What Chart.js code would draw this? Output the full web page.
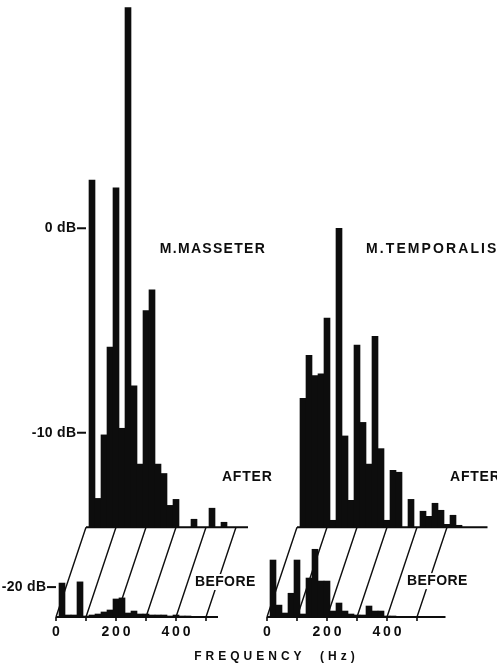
<!DOCTYPE html>
<html>
<head>
<meta charset="utf-8">
<script src="https://cdn.jsdelivr.net/npm/chart.js@4"></script>
<style>
  html, body { margin: 0; padding: 0; background: #fff; }
  #wrap { position: relative; width: 497px; height: 664px; overflow: hidden; background: #fff; }
  #wrap canvas { position: absolute; left: 0; top: 0; }
  #xtitle {
    position: absolute; left: 0; width: 553px; top: 649px;
    text-align: center; color: #0d0d0d;
    font: bold 12px "Liberation Sans", Arial, sans-serif;
    letter-spacing: 4px; white-space: pre;
  }
</style>
</head>
<body>
<div id="wrap">
  <canvas id="masseter" width="497" height="664"></canvas>
  <canvas id="temporalis" width="497" height="664"></canvas>
  <div id="xtitle">FREQUENCY  (Hz)</div>
</div>
<script>
// Spectrum bin centres (Hz), 20 Hz bins
const freqHz = [20, 40, 60, 80, 100, 120, 140, 160, 180, 200, 220, 240, 260, 280,
                300, 320, 340, 360, 380, 400, 420, 440, 460, 480, 500, 520, 540, 560];

// Relative level per bin in dB (0 dB reference); null = no component
const masseterAfterDb = [1.3, -20.3, -10.2, -4.4, 1.1, -9.6, 4.8, -6.5, -13.5, -2.8, -2.0, -13.5, -14.9, -22.7,
                         -20.6, null, null, -31.4, null, null, -23.9, null, -35.5, null, null, null, null, null];
const masseterBeforeDb = [-18.9, -43.5, -43.5, -18.6, -49.5, -43.5, -40, -35.5, -32.6, -24.4, -23.9, -37.5, -34, -40,
                          -40, -43.5, -43.5, -43.5, -49.5, -43.5, -49.5, -49.5, null, null, null, null, null, null];
const temporalisAfterDb = [-7.3, -4.8, -5.9, -5.8, -3.1, -32.6, 0.0, -10.3, -20.9, -4.3, -9.1, -13.5, -3.9, -11.6,
                           -32.6, -14.4, -14.7, null, -20.6, null, -25.4, -28.7, -21.9, -24.9, -40, -27.9, -43.5, null];
const temporalisBeforeDb = [-14.4, -28, -37.5, -22, -14.4, -40, -17.7, -12.9, -18.4, -18.4, -34, -26.6, -34, -40,
                            -43.5, -43.5, -28.7, -34, -34, -49.5, -49.5, null, null, null, null, null, null, null];

// Axis annotations
const afterDbTicks = [0, -10];
const beforeDbTicks = [-20];
const freqTicks = [0, 200, 400];
const depthLinesHz = [0, 100, 200, 300, 400, 500];

// Pseudo-3D depth offset between the AFTER and BEFORE planes
const HZ_SHIFT = 100;     // BEFORE plane sits one 100 Hz step to the left
const AMP_SHIFT = 0.3;    // and 0.3 (linear amplitude) lower
const AMP_TOP = 1.76;
const PX_PER_HZ = 0.3;

const INK = '#0d0d0d';
const FONT = 'bold 14px "Liberation Sans", Arial, sans-serif';

const dbToAmp = v => (v === null ? null : Math.pow(10, v / 20));
const toPoints = arr => freqHz.map((f, i) => ({ x: f, y: dbToAmp(arr[i]) }));

function drawText(ctx, text, x, y, align, spacing) {
  ctx.font = FONT;
  ctx.letterSpacing = spacing + 'px';
  ctx.textAlign = align;
  ctx.textBaseline = 'middle';
  const dx = align === 'center' ? spacing / 2 : (align === 'right' ? spacing : 0);
  ctx.fillText(text, x + dx, y);
}

const depthFrame = {
  id: 'depthFrame',
  beforeDatasetsDraw(chart, args, opts) {
    const { ctx } = chart;
    const { xAfter, xBefore, yAfter, yBefore } = chart.scales;
    const yA0 = yAfter.getPixelForValue(0);
    const yB0 = yBefore.getPixelForValue(0);
    ctx.save();
    ctx.strokeStyle = INK;
    // depth lines joining equal frequencies on both planes
    ctx.lineWidth = 1.4;
    depthLinesHz.forEach(f => {
      ctx.beginPath();
      ctx.moveTo(xBefore.getPixelForValue(f), yB0);
      ctx.lineTo(xAfter.getPixelForValue(f), yA0);
      ctx.stroke();
    });
    // baselines
    ctx.lineWidth = 2;
    ctx.beginPath();
    ctx.moveTo(xAfter.getPixelForValue(0), yA0);
    ctx.lineTo(xAfter.getPixelForValue(opts.afterEndHz), yA0);
    ctx.moveTo(xBefore.getPixelForValue(0), yB0);
    ctx.lineTo(xBefore.getPixelForValue(opts.beforeEndHz), yB0);
    ctx.stroke();
    // tick marks under the front baseline
    ctx.lineWidth = 1.6;
    ctx.beginPath();
    depthLinesHz.forEach(f => {
      const x = xBefore.getPixelForValue(f);
      ctx.moveTo(x, yB0);
      ctx.lineTo(x, yB0 + 4);
    });
    ctx.stroke();
    ctx.restore();
  },
  afterDatasetsDraw(chart, args, opts) {
    const { ctx } = chart;
    const { xAfter, xBefore, yAfter, yBefore } = chart.scales;
    const yB0 = yBefore.getPixelForValue(0);
    ctx.save();
    ctx.fillStyle = INK;
    ctx.strokeStyle = INK;

    // frequency tick labels under the front plane
    freqTicks.forEach(f => drawText(ctx, String(f), xBefore.getPixelForValue(f), yB0 + 15, 'center', 2.8));

    // dB scale
    if (opts.showDb) {
      ctx.lineWidth = 2;
      const tick = (x, y, d) => {
        ctx.beginPath();
        ctx.moveTo(x - 9, y);
        ctx.lineTo(x, y);
        ctx.stroke();
        drawText(ctx, d + ' dB', x - 10, y, 'right', 0.3);
      };
      afterDbTicks.forEach(d => tick(xAfter.getPixelForValue(0), yAfter.getPixelForValue(dbToAmp(d)), d));
      beforeDbTicks.forEach(d => tick(xBefore.getPixelForValue(0), yBefore.getPixelForValue(dbToAmp(d)), d));
    }

    // muscle name and plane captions
    drawText(ctx, opts.title, xAfter.getPixelForValue(opts.titleAt[0]), yAfter.getPixelForValue(opts.titleAt[1]), 'left', opts.titleSpacing);
    drawText(ctx, 'AFTER', xAfter.getPixelForValue(opts.afterAt[0]), yAfter.getPixelForValue(opts.afterAt[1]), 'left', 0.8);

    const bx = xBefore.getPixelForValue(opts.beforeAt[0]);
    const by = yBefore.getPixelForValue(opts.beforeAt[1]);
    ctx.font = FONT;
    ctx.letterSpacing = '0.4px';
    const w = ctx.measureText('BEFORE').width;
    ctx.fillStyle = '#fff';
    ctx.fillRect(bx - 3, by - 8, w + 5, 16);
    ctx.fillStyle = INK;
    drawText(ctx, 'BEFORE', bx, by, 'left', 0.4);
    ctx.restore();
  }
};

function makePanel(id, cfg) {
  const xMax = cfg.xMaxHz;
  const width = (xMax + HZ_SHIFT) * PX_PER_HZ;
  const barStyle = {
    backgroundColor: INK,
    borderWidth: 0,
    grouped: false,
    barPercentage: 1,
    categoryPercentage: 1
  };
  return new Chart(document.getElementById(id), {
    type: 'bar',
    data: {
      datasets: [
        Object.assign({ label: 'After', data: toPoints(cfg.after), xAxisID: 'xAfter', yAxisID: 'yAfter' }, barStyle),
        Object.assign({ label: 'Before', data: toPoints(cfg.before), xAxisID: 'xBefore', yAxisID: 'yBefore' }, barStyle)
      ]
    },
    options: {
      responsive: false,
      animation: false,
      events: [],
      layout: {
        padding: { left: cfg.left, right: 497 - cfg.left - width, top: 1, bottom: 47 }
      },
      scales: {
        xAfter:  { type: 'linear', axis: 'x', display: false, offset: false, min: -HZ_SHIFT, max: xMax },
        xBefore: { type: 'linear', axis: 'x', display: false, offset: false, min: 0, max: xMax + HZ_SHIFT },
        yAfter:  { type: 'linear', axis: 'y', display: false, min: -AMP_SHIFT, max: AMP_TOP },
        yBefore: { type: 'linear', axis: 'y', display: false, min: 0, max: AMP_TOP + AMP_SHIFT }
      },
      plugins: {
        legend: { display: false },
        tooltip: { enabled: false },
        title: { display: false },
        depthFrame: cfg.frame
      }
    },
    plugins: [depthFrame]
  });
}

makePanel('masseter', {
  left: 56,
  xMaxHz: 560,
  after: masseterAfterDb,
  before: masseterBeforeDb,
  frame: {
    showDb: true,
    afterEndHz: 540,
    beforeEndHz: 540,
    title: 'M.MASSETER',
    titleSpacing: 1.3,
    titleAt: [246, 0.93],
    afterAt: [453, 0.167],
    beforeAt: [463, 0.117]
  }
});

makePanel('temporalis', {
  left: 267,
  xMaxHz: 640,
  after: temporalisAfterDb,
  before: temporalisBeforeDb,
  frame: {
    showDb: false,
    afterEndHz: 635,
    beforeEndHz: 595,
    title: 'M.TEMPORALIS',
    titleSpacing: 2.1,
    titleAt: [230, 0.93],
    afterAt: [510, 0.167],
    beforeAt: [467, 0.12]
  }
});
</script>
</body>
</html>
